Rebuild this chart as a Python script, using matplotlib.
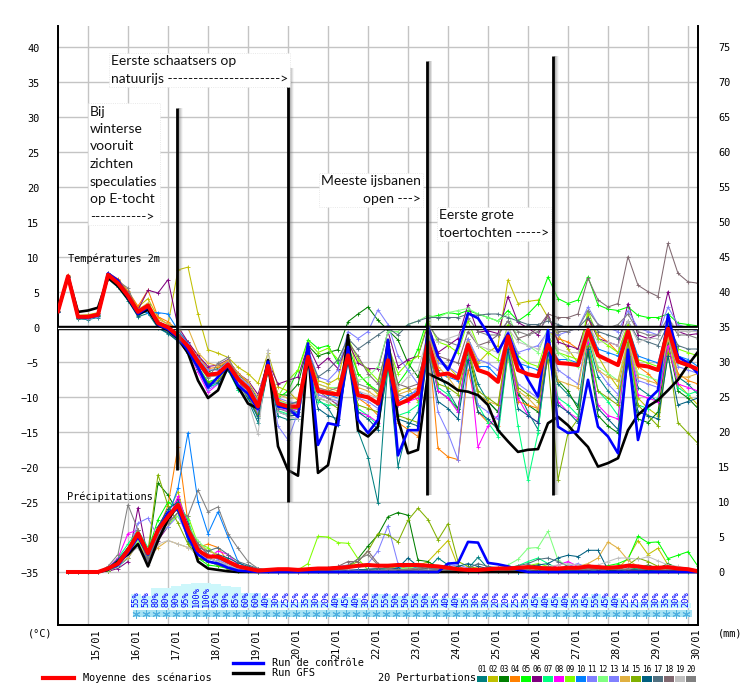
import matplotlib
matplotlib.use("Agg")
import matplotlib.pyplot as plt
from matplotlib.lines import Line2D
from matplotlib.patches import Rectangle
from matplotlib.transforms import blended_transform_factory
import numpy as np

W, H = 744, 684
MONO = "DejaVu Sans Mono"
NOTE = "Lato"

# 6-hourly steps, step 0 = 14/01 06h
steps = np.arange(65)
precip_steps = np.arange(1, 65)
day_steps = np.arange(3, 64, 4)
day_labels = ["15/01", "16/01", "17/01", "18/01", "19/01", "20/01", "21/01", "22/01",
              "23/01", "24/01", "25/01", "26/01", "27/01", "28/01", "29/01", "30/01"]

# probability of precipitation per 6h step (steps 8..63)
pct_steps = np.arange(8, 64)
pct_values = [55, 50, 80, 80, 90, 95, 100, 100, 95, 90, 85, 60, 60, 40, 30, 25, 25, 35, 30, 20,
              40, 45, 40, 30, 55, 55, 50, 50, 55, 50, 35, 40, 40, 35, 30, 30, 20, 20, 25, 35,
              45, 40, 45, 40, 35, 45, 55, 45, 40, 25, 25, 30, 30, 35, 30, 20]

# 2 m temperature (degC)
temp_mean = [2.4, 7.4, 1.6, 1.6, 1.9, 7.6, 6.4, 4.6, 2.3, 3.2, 0.7, 0.1, -1.1,
             -2.6, -4.8, -6.7, -6.5, -5.2, -7.3, -8.6, -11.2, -5.4, -10.8, -11.2, -11.2,
             -4.1, -9.0, -9.3, -9.5, -3.9, -9.6, -9.9, -10.8, -4.6, -10.9, -10.3, -9.3, -2.0, -6.7, -6.5, -7.2, -2.4, -6.0, -6.5, -7.7,
             -1.2, -6.0, -6.6, -6.9, -2.4, -5.0, -5.1, -5.3, -0.3, -3.9, -4.6, -5.3, -0.5, -5.3, -5.5, -6.0, -0.1, -4.8, -5.3, -5.9]
temp_control = [2.4, 7.4, 1.5, 1.5, 1.8, 7.8, 6.8, 4.4, 2.0, 3.0, 0.5, -0.2, -1.4,
                -3.2, -5.6, -8.5, -7.0, -5.4, -8.2, -9.4, -11.6, -4.8, -11.2, -11.5, -12.7,
                -2.2, -16.7, -13.6, -13.9, -2.7, -13.1, -15.0, -13.1, -1.7, -18.2, -14.6, -14.6, 0.2, -4.1, -6.0, -2.7, 2.1, 1.4, -0.8, -3.4,
                -0.8, -4.6, -7.4, -9.8, -0.3, -14.1, -15.0, -14.8, -7.4, -14.1, -15.5, -17.9, -3.1, -16.0, -10.3, -8.9, 1.9, -4.1, -5.0, -6.5]
temp_gfs = [2.4, 7.4, 2.3, 2.5, 2.9, 7.2, 6.0, 4.2, 2.0, 2.6, 0.4, -0.3, -1.5,
            -3.6, -7.5, -10.0, -8.9, -5.5, -8.4, -10.8, -11.5, -4.6, -16.9, -20.3, -21.1,
            -2.9, -20.7, -19.6, -12.4, -1.0, -14.6, -15.5, -14.1, -1.7, -13.0, -17.9, -17.4, -6.5, -7.2, -7.9, -8.9, -9.1, -9.6, -11.0, -14.6,
            -16.2, -17.7, -17.4, -17.3, -13.6, -12.7, -13.9, -15.5, -17.0, -19.8, -19.3, -18.6, -14.6, -12.4, -11.2, -10.3, -8.9, -7.4, -5.3, -3.4]

pert_temp = [
    # 01
    [2.3, 7.5, 1.3, 1.2, 1.5, 7.0, 5.8, 3.9, 1.6, 2.1, 0.0, -0.8, -1.9,
     -3.3, -5.9, -8.5, -7.9, -5.8, -8.8, -10.3, -13.5, -6.0, -12.6, -13.1, -13.0,
     -5.0, -10.2, -11.4, -13.8, -4.2, -14.7, -18.5, -25.0, -5.0, -19.8, -14.0, -12.0, -1.5, -6.0, -9.0, -11.5, -3.0, -8.0, -10.5, -12.0,
     -2.5, -9.0, -12.0, -14.5, -3.5, -8.0, -9.5, -11.0, -1.5, -7.0, -9.0, -10.5, -2.0, -8.5, -9.5, -10.5, -1.0, -7.0, -8.0, -9.5],
    # 02
    [2.5, 7.3, 1.8, 1.9, 2.2, 7.7, 6.9, 5.2, 3.0, 4.2, 1.5, 0.5, 8.3,
     8.7, 2.0, -3.1, -3.6, -4.2, -5.6, -6.5, -7.9, -3.6, -8.4, -9.0, -10.4,
     -3.5, -7.5, -8.0, -7.2, -1.0, -6.5, -8.0, -9.5, -2.0, -9.0, -8.5, -10.5, -1.0, -4.5, -5.5, -7.0, -1.5, -5.0, -3.5, -2.5,
     6.9, 3.5, 3.8, 4.0, 1.5, -1.0, -3.0, -5.0, 2.0, -4.0, -6.5, -8.5, -2.0, -10.0, -11.5, -12.5, -3.0, -8.0, -9.5, -11.0],
    # 03
    [2.4, 7.5, 1.6, 1.5, 1.8, 7.5, 6.4, 4.8, 2.5, 3.4, 0.9, 0.2, -1.0,
     -2.4, -4.4, -6.2, -5.8, -4.8, -6.6, -7.8, -10.2, -5.0, -9.5, -9.6, -8.0,
     -2.5, -4.0, -3.5, -3.1, 0.9, 2.0, 3.0, 1.1, -0.3, -1.7, -5.0, -7.0, -2.5, -9.0, -10.0, -11.5, -3.5, -9.5, -10.5, -12.0,
     -3.0, -9.5, -11.0, -12.0, -2.5, -7.5, -9.0, -11.5, -3.5, -12.5, -14.0, -15.0, -5.0, -13.0, -13.5, -12.0, -2.0, -9.0, -10.0, -11.5],
    # 04
    [2.4, 7.6, 1.7, 1.8, 2.1, 7.9, 7.0, 5.3, 3.1, 5.4, 1.6, 0.9, -0.4,
     -2.0, -4.0, -5.8, -5.6, -4.7, -6.4, -7.9, -10.6, -4.9, -10.2, -10.8, -10.7,
     -3.4, -8.6, -8.9, -9.3, -3.5, -10.0, -11.0, -12.5, -5.5, -13.5, -14.5, -15.5, -1.0, -17.2, -18.4, -18.8, -6.0, -12.0, -13.5, -14.0,
     -4.0, -10.5, -11.0, -11.5, -0.5, -1.5, -2.0, -3.0, 1.5, -1.0, -2.0, -3.5, 0.5, -5.5, -6.5, -8.0, -1.0, -6.5, -7.5, -8.0],
    # 05
    [2.5, 7.4, 1.5, 1.4, 1.7, 7.3, 6.2, 4.4, 2.1, 2.9, 0.5, -0.2, -1.3,
     -3.0, -5.5, -7.7, -7.2, -5.6, -8.0, -9.5, -12.3, -5.6, -10.0, -9.0, -6.0,
     -1.7, -2.9, -2.5, -5.0, -2.5, -6.5, -8.0, -9.0, -3.5, -8.0, -6.0, -3.0, 1.5, 1.8, 2.2, 2.0, 2.5, 2.0, 1.5, 1.0,
     2.5, 1.0, 2.0, 3.5, 7.3, 4.2, 3.5, 4.0, 7.3, 3.3, 2.7, 2.5, 3.0, 1.8, 1.5, 1.5, 2.0, 0.7, 0.5, 0.3],
    # 06
    [2.3, 7.3, 1.4, 1.4, 1.8, 7.6, 6.7, 5.0, 2.6, 5.4, 5.0, 6.9, 0.2,
     -2.0, -3.9, -5.5, -5.3, -4.5, -6.5, -7.5, -9.5, -4.8, -8.0, -7.5, -7.0,
     -2.5, -5.5, -4.3, -5.8, -2.0, -5.0, -5.8, -5.8, -0.5, -5.5, -4.5, -4.0, 0.5, -3.5, -2.5, -1.5, 3.3, -0.6, -0.4, -0.8,
     4.5, 0.8, 0.0, -1.0, 2.0, -2.0, -2.5, -3.0, 1.5, -1.5, -2.0, -2.5, 3.5, -1.0, -1.5, -1.0, 5.2, -0.5, -1.0, -0.8],
    # 07
    [2.4, 7.3, 1.5, 1.5, 1.9, 7.5, 6.3, 4.4, 2.0, 2.9, 0.3, -0.4, -1.6,
     -3.2, -5.6, -8.3, -8.0, -6.0, -8.8, -10.0, -12.6, -6.2, -11.8, -12.3, -12.0,
     -4.5, -10.5, -11.0, -11.0, -4.0, -11.5, -12.5, -14.0, -6.0, -12.5, -12.0, -11.0, -2.5, -8.5, -9.5, -12.0, -4.0, -11.0, -13.5, -15.5,
     -3.5, -14.0, -21.7, -15.0, -2.0, -10.0, -11.0, -12.5, -1.5, -9.0, -10.5, -12.5, -3.0, -11.0, -11.5, -10.0, -0.5, -8.5, -9.5, -9.0],
    # 08
    [2.4, 7.4, 1.6, 1.6, 1.9, 7.4, 6.3, 4.4, 2.1, 3.0, 0.5, -0.3, -1.5,
     -3.4, -6.3, -9.2, -8.0, -5.5, -7.8, -9.6, -12.4, -5.8, -11.5, -11.8, -11.6,
     -4.0, -9.5, -10.0, -11.0, -4.5, -12.0, -12.5, -13.5, -5.0, -11.0, -10.5, -10.0, -2.0, -9.0, -10.0, -12.0, -2.5, -17.0, -14.0, -12.5,
     -2.0, -10.0, -12.5, -13.5, -2.5, -10.5, -12.0, -13.0, -2.0, -11.0, -12.5, -13.0, -1.0, -9.5, -10.0, -10.5, -2.5, -8.0, -8.5, -9.0],
    # 09
    [2.5, 7.4, 1.7, 1.6, 1.9, 7.6, 6.4, 4.5, 2.2, 3.1, 0.6, -0.1, -1.2,
     -2.8, -5.0, -7.0, -6.7, -5.3, -7.4, -8.8, -11.2, -5.4, -9.8, -7.5, -6.0,
     -2.0, -3.5, -2.9, -4.5, -1.5, -4.5, -6.0, -7.5, -2.5, -6.5, -5.0, -4.0, 1.0, -2.0, -2.5, -3.5, 1.0, -2.5, -3.5, -4.5,
     0.5, -4.0, -5.0, -5.5, -1.0, -3.5, -4.0, -4.5, 2.5, -1.5, -2.5, -3.5, 0.5, -4.5, -5.0, -5.5, 1.0, -3.0, -3.5, -4.0],
    # 10
    [2.4, 7.4, 1.6, 1.7, 2.0, 7.8, 6.6, 4.9, 2.3, 2.2, 2.2, 2.0, -0.3,
     -2.2, -4.5, -6.4, -6.4, -5.0, -7.0, -8.4, -10.5, -5.0, -10.5, -11.0, -12.5,
     -4.0, -9.0, -9.5, -10.0, -4.0, -9.0, -10.0, -11.0, -4.0, -10.5, -9.5, -9.0, -1.5, -6.5, -7.0, -7.5, -2.0, -5.5, -5.5, -7.0,
     -1.0, -5.0, -5.5, -6.0, -2.0, -4.5, -4.5, -5.0, 0.5, -3.0, -3.5, -4.0, 0.0, -4.0, -4.5, -5.0, 0.5, -4.0, -4.5, -5.5],
    # 11
    [2.3, 7.2, 1.4, 1.3, 1.6, 7.2, 6.1, 4.3, 1.9, 2.8, 0.2, -0.6, -1.8,
     -3.6, -6.0, -8.8, -8.0, -6.0, -8.5, -9.8, -12.0, -5.5, -14.0, -16.0, -12.0,
     -3.0, -7.0, -7.5, -6.0, -0.5, -1.5, -0.5, 2.6, 0.5, -4.0, -6.0, -8.0, -2.0, -12.0, -15.0, -18.8, -4.5, -11.0, -12.0, -13.0,
     -3.0, -8.0, -9.0, -10.0, -1.5, -6.0, -7.0, -8.0, -0.5, -6.0, -8.0, -9.5, -2.5, -7.5, -8.0, -8.5, -1.5, -5.5, -6.0, -6.5],
    # 12
    [2.4, 7.5, 1.6, 1.6, 1.9, 7.5, 6.4, 4.6, 2.4, 3.2, 0.8, 0.2, -0.9,
     -2.5, -4.6, -6.5, -6.4, -5.0, -7.0, -8.2, -10.8, -5.2, -10.4, -10.8, -10.5,
     -3.5, -8.0, -8.5, -8.5, -3.0, -7.5, -7.0, -5.5, -0.5, -0.5, 0.5, 1.0, 1.8, 1.5, 2.2, 2.5, 2.8, 2.0, 1.5, 1.0,
     2.0, -1.5, -2.5, -3.5, 0.0, -3.5, -4.5, -5.5, -1.0, -5.5, -6.5, -7.5, -1.5, -6.5, -7.0, -7.5, -1.0, -5.0, -5.5, -6.0],
    # 13
    [2.5, 7.5, 1.7, 1.7, 2.0, 7.7, 6.6, 4.7, 2.4, 3.3, 0.9, 0.3, -0.8,
     -2.3, -4.3, -6.0, -6.0, -4.8, -6.9, -8.0, -10.4, -5.0, -10.0, -10.5, -10.8,
     -4.5, -9.5, -10.0, -10.5, -4.5, -10.0, -10.5, -11.5, -5.5, -11.0, -10.0, -8.5, -1.0, -5.0, -5.5, -6.5, -1.5, -4.5, -5.0, -6.0,
     -0.5, -3.5, -3.0, -2.5, -0.5, -1.0, -0.5, 0.0, 3.0, 0.5, 0.0, -0.5, 2.5, 0.0, -0.5, -1.0, 3.0, 0.5, 0.0, -0.5],
    # 14
    [2.4, 7.4, 1.6, 1.6, 1.9, 7.6, 6.5, 4.8, 2.6, 3.6, 1.2, 0.6, -0.4,
     0.0, -3.5, -5.0, -5.4, -4.6, -6.5, -7.6, -10.0, -4.8, -9.5, -10.0, -10.0,
     -3.5, -8.0, -8.5, -9.0, -3.5, -8.5, -9.0, -10.0, -3.5, -9.5, -9.0, -8.5, -0.5, -5.5, -7.0, -9.0, -2.0, -9.5, -10.5, -11.0,
     -1.5, -9.0, -10.0, -11.5, -2.0, -7.5, -8.0, -8.5, -1.0, -6.0, -7.0, -7.5, -2.0, -7.0, -7.5, -8.0, -1.5, -7.0, -7.0, -6.5],
    # 15
    [2.4, 7.4, 1.5, 1.5, 1.8, 7.4, 6.2, 4.3, 1.9, 2.8, 0.3, -0.5, -1.7,
     -3.4, -5.8, -7.8, -7.5, -5.8, -8.3, -9.8, -12.5, -5.8, -11.0, -11.5, -11.5,
     -4.0, -10.0, -10.5, -11.5, -4.5, -11.0, -11.5, -12.0, -5.0, -12.5, -13.0, -13.5, -3.0, -8.0, -8.5, -9.5, -3.0, -9.0, -10.0, -11.0,
     -2.0, -8.5, -9.5, -10.5, -4.5, -21.7, -15.0, -13.0, -2.5, -9.0, -10.0, -11.0, -2.0, -11.0, -12.5, -14.0, -3.5, -13.5, -15.0, -16.5],
    # 16
    [2.3, 7.3, 1.4, 1.4, 1.7, 7.2, 6.0, 4.1, 1.7, 2.6, 0.1, -0.7, -1.9,
     -3.5, -5.8, -8.0, -7.8, -6.0, -8.6, -10.0, -12.8, -6.0, -12.0, -12.5, -12.5,
     -5.0, -11.5, -12.5, -13.0, -5.0, -12.0, -13.0, -14.5, -5.5, -13.0, -13.5, -14.0, -3.5, -10.5, -11.5, -13.0, -4.5, -12.0, -13.0, -14.5,
     -3.0, -11.5, -12.5, -13.5, -3.5, -11.0, -12.0, -13.5, -3.0, -11.5, -13.0, -14.5, -4.0, -12.0, -12.5, -13.0, -4.0, -11.0, -10.5, -10.0],
    # 17
    [2.4, 7.4, 1.6, 1.6, 1.9, 7.5, 6.3, 4.6, 2.3, 3.1, 0.6, 0.0, -1.2,
     -2.8, -5.1, -7.0, -6.8, -5.4, -7.6, -8.8, -11.5, -5.6, -10.8, -11.0, -10.5,
     -3.5, -7.0, -6.0, -4.5, -1.5, -3.0, -2.0, -1.0, 0.0, -1.0, 0.5, 1.0, 1.5, 1.5, 1.5, 1.5, 2.0, 1.8, 2.0, 2.0,
     1.5, 1.0, 0.5, 0.5, 1.0, 0.5, 0.0, 0.0, 1.5, -0.5, -1.0, -1.5, 1.0, -1.5, -2.0, -2.5, 0.5, -2.5, -3.0, -3.0],
    # 18
    [2.4, 7.5, 1.7, 1.7, 2.1, 7.8, 6.8, 5.0, 2.6, 3.3, 0.9, 0.3, -0.8,
     -2.5, -4.6, -6.6, -6.8, -5.5, -7.8, -9.0, -11.5, -5.5, -11.0, -11.5, -12.0,
     -4.0, -9.0, -10.0, -11.0, -2.0, -4.0, -6.5, -8.0, -2.0, -8.0, -8.5, -8.0, -0.5, -4.0, -4.5, -5.0, -0.5, -2.5, -2.0, -1.0,
     1.0, -1.5, -1.0, 0.0, 2.0, 1.5, 1.5, 2.0, 7.1, 4.0, 3.0, 3.5, 10.2, 6.1, 5.2, 4.5, 12.1, 7.8, 6.6, 6.4],
    # 19
    [2.4, 7.4, 1.6, 1.6, 1.9, 7.5, 6.4, 4.6, 2.3, 3.2, 0.7, 0.1, -1.1,
     -2.7, -4.9, -7.0, -6.8, -5.4, -7.8, -10.5, -15.2, -3.1, -12.0, -12.5, -13.0,
     -4.5, -10.0, -10.5, -10.0, -3.5, -9.0, -9.5, -10.0, -3.5, -8.5, -7.0, -6.0, -1.0, -2.0, -1.5, -1.0, 0.0, -2.5, -3.0, -3.5,
     0.0, -2.0, -2.5, -3.0, -0.5, -3.0, -3.5, -3.5, 0.5, -2.0, -2.0, -2.5, 1.0, -2.0, -1.5, -1.5, 1.5, -0.5, -0.5, -0.5],
    # 20
    [2.4, 7.4, 1.5, 1.5, 1.8, 7.3, 6.7, 5.7, 2.2, 3.0, 0.4, -0.3, -1.4,
     -3.0, -5.2, -7.2, -5.0, -4.2, -7.0, -8.5, -11.0, -4.5, -11.5, -12.0, -12.5,
     -4.0, -8.5, -9.0, -8.5, -2.5, -8.0, -8.5, -9.0, -3.0, -9.5, -10.0, -9.5, 0.5, -1.5, -2.0, -2.5, 1.5, -0.5, -1.0, -1.0,
     1.0, -0.5, -1.0, -0.5, 1.5, -0.5, -0.5, 0.0, 2.5, 0.5, 0.0, 0.5, 2.0, -0.5, -1.0, -1.0, 1.5, -1.0, -1.0, -1.5],
]

# 6-hourly precipitation (mm), steps 1..64
precip_mean = [0, 0, 0, 0, 0.5, 1.2, 3.1, 5.5, 2.7, 6.0, 7.9, 9.6, 6.0, 3.1, 2.2, 2.2, 1.5, 0.8, 0.5, 0.2,
               0.3, 0.4, 0.4, 0.3, 0.4, 0.5, 0.5, 0.6, 0.7, 0.9, 1.0, 0.9, 0.9, 1.0, 1.0, 1.0, 0.9, 0.8, 0.6, 0.4,
               0.3, 0.3, 0.4, 0.5, 0.5, 0.6, 0.7, 0.6, 0.5, 0.5, 0.6, 0.6, 0.8, 0.7, 0.6, 0.7, 0.9, 0.8, 0.6, 0.6,
               0.7, 0.5, 0.4, 0.1]
precip_control = [0, 0, 0, 0, 0.4, 1.0, 2.8, 5.0, 2.5, 6.0, 8.5, 9.0, 5.0, 2.5, 1.5, 1.2, 0.6, 0.2, 0.1, 0.0,
                  0, 0, 0, 0, 0, 0, 0, 0, 0, 0, 0, 0, 0, 0, 0, 0, 0, 0, 1.2, 1.3,
                  4.3, 4.2, 1.3, 1.1, 0.8, 0.3, 0, 0, 0, 0, 0, 0, 0, 0, 0, 0, 0, 0, 0, 0,
                  0, 0, 0, 0]
precip_gfs = [0, 0, 0, 0, 0.3, 1.5, 2.5, 4.0, 0.8, 4.5, 7.5, 9.5, 6.0, 1.5, 0.5, 0.3, 0.1, 0, 0, 0,
              0, 0, 0, 0, 0, 0, 0, 0, 0, 0, 0, 0, 0, 0, 0, 0, 0, 0, 0, 0,
              0, 0, 0, 0, 0, 0, 0, 0, 0, 0, 0, 0, 0, 0, 0, 0, 0, 0, 0, 0,
              0, 0, 0, 0]

pert_precip = [
    [0, 0, 0, 0, 0.5, 1.5, 3.5, 5.0, 2.0, 6.5, 8.0, 9.0, 4.5, 2.0, 1.5, 1.0, 0.6, 0.3, 0.2, 0.1,
     0.2, 0.1, 0, 0, 0.1, 0.2, 0.3, 0.2, 0.1, 0.3, 0.4, 0.3, 0.2, 0.1, 0.2, 0.3, 0.5, 2.0, 1.0, 0.3,
     0.5, 2.1, 0.5, 0.2, 0.1, 0, 0.1, 0.3, 0.4, 0.2, 0.1, 0, 0, 0.2, 0.3, 0.2, 0.1, 0, 0.1, 0.2, 0.1, 0, 0, 0],
    [0, 0, 0, 0, 0.3, 1.0, 2.5, 4.5, 3.0, 5.5, 8.5, 11.5, 6.0, 2.5, 1.5, 1.2, 0.8, 0.5, 0.3, 0.1,
     0.3, 0.2, 0.1, 0, 0, 0.1, 0.2, 0.4, 0.3, 0.2, 0.1, 0.2, 0.5, 0.8, 0.6, 0.9, 1.5, 3.0, 4.5, 0.8,
     0.3, 0.2, 0.1, 0.3, 0.4, 0.5, 0.2, 0.1, 0, 0.2, 0.4, 0.3, 0.2, 0.1, 0.3, 0.5, 2.0, 4.5, 2.5, 3.4, 1.0, 0.4, 0.2, 0],
    [0, 0, 0, 0, 0.2, 0.8, 3.0, 5.5, 2.5, 12.7, 11.0, 8.5, 5.0, 3.0, 2.0, 1.5, 1.0, 0.4, 0.2, 0.1,
     0.2, 0.1, 0.1, 0.2, 0.4, 0.3, 0.2, 0.5, 0.8, 1.9, 3.7, 5.3, 7.9, 8.5, 8.1, 1.7, 1.5, 0.6, 0.3, 0.2,
     0.1, 0.2, 0.4, 0.3, 0.1, 0, 0.2, 0.4, 0.6, 0.3, 0.2, 0.1, 0.3, 0.5, 0.8, 0.4, 0.3, 0.6, 1.0, 0.5, 1.2, 0.6, 0.2, 0.1],
    [0, 0, 0, 0, 0.4, 1.0, 2.5, 4.0, 1.5, 6.0, 9.5, 17.9, 7.0, 3.5, 4.0, 3.5, 1.5, 0.6, 0.3, 0.1,
     0.1, 0, 0, 0.1, 0.2, 0.1, 0, 0.1, 0.3, 0.2, 0.1, 0.3, 0.6, 0.4, 0.8, 1.2, 1.0, 0.5, 0.3, 0.2,
     0.4, 0.6, 0.3, 0.2, 0.1, 0.3, 0.5, 0.4, 0.2, 0.1, 0.2, 0.3, 0.6, 0.8, 0.5, 0.3, 0.2, 0.4, 0.3, 0.2, 0.1, 0.2, 0.1, 0],
    [0, 0, 0, 0, 0.3, 1.2, 3.0, 5.5, 3.0, 7.5, 10.0, 9.0, 5.5, 2.0, 1.0, 0.8, 0.5, 0.2, 0.1, 0.0,
     0.3, 0.2, 0.1, 0.1, 0.2, 0.4, 0.5, 0.3, 0.2, 0.1, 0.2, 0.3, 0.2, 0.1, 0.3, 0.4, 0.6, 0.5, 0.3, 0.2,
     0.1, 0.2, 0.3, 0.2, 0.1, 0.2, 0.4, 0.6, 0.3, 0.2, 0.3, 0.5, 0.4, 0.6, 0.9, 1.2, 1.8, 5.1, 4.2, 4.3, 1.9, 2.4, 2.9, 0.8],
    [0, 0, 0, 0, 0.1, 0.5, 1.5, 9.2, 2.0, 4.5, 6.5, 10.5, 7.0, 3.5, 2.0, 1.5, 1.0, 0.5, 0.2, 0.0,
     0.1, 0, 0, 0, 0.1, 0.2, 0.1, 0, 0.2, 0.3, 0.2, 0.1, 0.3, 0.5, 0.4, 0.2, 0.1, 0.3, 0.2, 0.1,
     0, 0.1, 0.2, 0.1, 0, 0.1, 0.3, 0.2, 0.1, 0, 0.1, 0.2, 0.1, 0, 0.1, 0.3, 0.2, 0.1, 0, 0.1, 0.2, 0.1, 0, 0],
    [0, 0, 0, 0, 0.5, 2.0, 4.0, 6.0, 3.5, 6.0, 8.0, 10.0, 7.5, 3.0, 2.0, 1.5, 0.8, 0.4, 0.2, 0.1,
     0.2, 0.3, 0.2, 0.1, 0.1, 0.2, 0.3, 0.4, 0.2, 0.1, 0.3, 0.4, 0.6, 0.5, 0.3, 0.2, 0.4, 0.5, 0.3, 0.2,
     0.3, 0.5, 0.4, 0.3, 0.6, 0.9, 1.5, 2.0, 1.2, 0.5, 0.3, 0.2, 0.4, 0.3, 0.2, 0.1, 0.3, 0.5, 0.4, 0.2, 0.3, 0.2, 0.1, 0],
    [0, 0, 0, 0, 0.6, 2.0, 5.5, 6.0, 3.0, 5.5, 7.5, 10.8, 6.5, 2.5, 2.0, 3.0, 2.5, 1.0, 0.3, 0.1,
     0.1, 0.2, 0.1, 0, 0.1, 0.2, 0.1, 0.2, 0.3, 0.2, 0.1, 0.2, 0.3, 0.4, 0.2, 0.1, 0.3, 0.2, 0.1, 0.2,
     0.1, 0, 0.1, 0.2, 0.3, 0.2, 0.4, 0.5, 0.3, 1.0, 1.5, 0.8, 0.4, 0.2, 0.1, 0.2, 0.3, 0.2, 0.1, 0, 0.1, 0.2, 0.1, 0],
    [0, 0, 0, 0, 0.2, 0.8, 2.0, 4.5, 2.0, 5.0, 6.5, 8.5, 8.0, 4.0, 3.5, 2.0, 1.5, 0.6, 0.3, 0.1,
     0.2, 0.1, 0.1, 0.3, 1.2, 5.1, 5.0, 4.2, 4.1, 1.9, 0.3, 0.2, 0.4, 0.3, 0.5, 0.6, 0.4, 0.3, 0.2, 0.3,
     0.5, 0.4, 0.3, 0.2, 0.4, 0.6, 0.9, 1.2, 0.8, 0.4, 0.3, 0.2, 0.3, 0.5, 0.4, 0.3, 0.2, 0.3, 0.4, 0.3, 0.2, 0.3, 0.1, 0],
    [0, 0, 0, 0, 0.3, 0.8, 2.0, 4.0, 1.5, 5.5, 8.0, 12.0, 19.9, 10.0, 5.5, 8.6, 5.0, 1.5, 0.4, 0.1,
     0.1, 0, 0, 0.1, 0.2, 0.1, 0, 0.1, 0.2, 0.3, 0.2, 0.1, 0.3, 0.6, 1.0, 0.5, 0.3, 0.2, 0.1, 0.2,
     0.1, 0.2, 0.3, 0.2, 0.1, 0, 0.1, 0.2, 0.3, 0.2, 0.1, 0.2, 0.3, 0.2, 0.1, 0.2, 0.3, 0.4, 0.2, 0.1, 0.1, 0, 0, 0],
    [0, 0, 0, 0, 0.4, 1.0, 2.5, 7.0, 7.7, 5.0, 6.5, 8.0, 5.0, 3.0, 2.0, 1.5, 0.8, 0.3, 0.1, 0.0,
     0.2, 0.3, 0.2, 0.1, 0.3, 0.4, 0.6, 0.8, 1.0, 0.7, 1.2, 3.0, 6.6, 1.2, 0.5, 0.3, 0.2, 0.4, 0.3, 0.2,
     0.1, 0.2, 0.3, 0.2, 0.1, 0.3, 0.4, 0.2, 0.1, 0.2, 0.3, 0.2, 0.1, 0.2, 0.3, 0.4, 0.3, 0.2, 0.1, 0.2, 0.1, 0.2, 0.1, 0],
    [0, 0, 0, 0, 0.3, 1.0, 2.5, 4.5, 2.0, 6.0, 7.0, 8.0, 6.5, 4.5, 3.0, 2.5, 1.2, 0.5, 0.2, 0.1,
     0.1, 0.2, 0.1, 0.2, 0.3, 0.2, 0.4, 0.3, 0.2, 0.1, 0.2, 0.3, 0.2, 0.4, 0.6, 0.5, 0.3, 0.2, 0.1, 0.2,
     0.3, 0.2, 0.4, 0.6, 1.0, 1.8, 3.4, 3.5, 5.8, 1.7, 0.8, 0.5, 0.3, 0.2, 0.4, 0.3, 0.2, 0.3, 0.2, 0.1, 0.2, 0.1, 0, 0],
    [0, 0, 0, 0, 0.4, 1.2, 3.0, 5.5, 3.0, 5.0, 7.5, 9.5, 6.0, 4.0, 2.5, 1.8, 1.0, 0.4, 0.2, 0.1,
     0.1, 0, 0.1, 0.2, 0.1, 0.2, 0.3, 0.2, 0.1, 0.2, 0.3, 0.2, 0.4, 0.3, 0.2, 0.3, 0.5, 0.6, 0.8, 1.0,
     0.6, 0.4, 0.3, 0.2, 0.3, 0.4, 0.3, 0.2, 0.3, 0.5, 0.8, 1.2, 0.6, 0.3, 0.2, 0.4, 0.3, 0.2, 0.1, 0.2, 0.1, 0.2, 0.1, 0],
    [0, 0, 0, 0, 0.3, 1.0, 2.0, 4.0, 2.0, 3.5, 4.5, 4.0, 3.5, 4.0, 3.0, 2.5, 1.5, 0.5, 0.2, 0.1,
     0.2, 0.1, 0, 0.1, 0.2, 0.1, 0.2, 0.3, 0.2, 0.1, 0.2, 0.1, 0.3, 0.2, 0.4, 0.3, 0.2, 0.1, 0.2, 0.3,
     0.2, 0.1, 0.2, 0.3, 0.2, 0.4, 0.3, 0.2, 0.3, 0.4, 0.6, 0.8, 1.2, 2.0, 4.3, 3.4, 1.7, 0.8, 0.5, 0.3, 0.2, 0.1, 0.1, 0],
    [0, 0, 0, 0, 0.4, 1.5, 3.5, 6.0, 3.0, 13.9, 9.5, 7.0, 4.0, 2.0, 1.5, 1.0, 0.5, 0.2, 0.1, 0.0,
     0.2, 0.3, 0.1, 0.2, 0.3, 0.4, 0.3, 0.5, 0.8, 1.5, 3.0, 5.5, 5.3, 4.3, 7.4, 9.1, 7.5, 4.6, 6.9, 1.5,
     0.8, 0.5, 0.3, 0.2, 0.4, 0.3, 0.2, 0.3, 0.4, 0.2, 0.3, 0.2, 0.4, 0.5, 0.3, 0.2, 1.0, 2.0, 1.5, 0.8, 0.5, 0.3, 0.2, 0.1],
    [0, 0, 0, 0, 0.6, 1.8, 3.5, 5.0, 2.5, 6.5, 9.0, 10.0, 6.0, 3.0, 2.0, 2.5, 2.0, 1.3, 0.8, 0.4,
     0.3, 0.2, 0.1, 0.2, 0.3, 0.5, 0.4, 0.3, 0.2, 0.3, 0.4, 0.5, 0.3, 0.6, 2.0, 0.8, 0.4, 0.3, 0.5, 0.8,
     1.2, 0.8, 0.5, 0.3, 0.4, 0.6, 0.8, 1.0, 1.2, 2.0, 2.4, 2.2, 3.1, 3.1, 0.3, 0.2, 0.4, 0.3, 0.2, 0.1, 0.2, 0.1, 0.1, 0],
    [0, 0, 0, 0, 0.5, 1.5, 3.0, 5.0, 2.0, 6.0, 7.5, 9.5, 5.5, 3.5, 3.0, 3.5, 2.5, 1.5, 1.0, 0.5,
     0.2, 0.1, 0.2, 0.1, 0.2, 0.3, 0.2, 0.4, 0.3, 0.2, 0.3, 0.5, 0.4, 0.3, 0.2, 0.4, 0.3, 0.5, 0.6, 0.4,
     0.5, 1.2, 0.8, 0.6, 0.5, 0.9, 1.2, 1.8, 2.0, 1.5, 0.8, 0.6, 0.4, 0.3, 0.5, 0.4, 0.3, 0.2, 0.4, 0.3, 0.2, 0.1, 0.1, 0],
    [0, 0, 0, 0, 0.5, 1.5, 3.5, 5.5, 1.5, 5.0, 7.0, 8.5, 6.5, 4.0, 2.5, 2.0, 1.2, 0.5, 0.2, 0.1,
     0.3, 0.2, 0.1, 0.2, 0.3, 0.4, 0.6, 0.8, 1.5, 1.5, 3.0, 1.2, 0.5, 0.3, 0.2, 0.4, 0.6, 0.3, 0.2, 0.1,
     0.2, 0.3, 0.2, 0.1, 0.2, 0.3, 0.5, 0.4, 0.3, 0.2, 0.1, 0.2, 0.3, 0.4, 0.6, 0.5, 0.3, 0.2, 0.4, 0.3, 0.2, 0.3, 0.2, 0.1],
    [0, 0, 0, 0, 0.3, 1.0, 2.5, 3.5, 1.0, 4.0, 4.5, 4.0, 3.5, 2.5, 2.0, 1.5, 1.0, 0.5, 0.3, 0.1,
     0.1, 0.2, 0.1, 0, 0.1, 0.2, 0.1, 0.2, 0.3, 0.2, 0.1, 0.2, 0.3, 0.2, 0.1, 0.2, 0.3, 0.2, 0.1, 0.2,
     0.1, 0.2, 0.3, 0.2, 0.4, 0.3, 0.2, 0.5, 0.8, 1.0, 1.2, 1.0, 0.8, 1.0, 1.5, 2.0, 2.0, 1.8, 2.2, 1.6, 1.0, 0.8, 0.5, 0.3],
    [0, 0, 0, 0, 0.8, 2.5, 9.6, 6.0, 2.5, 5.5, 7.0, 8.5, 8.0, 11.7, 8.6, 9.3, 5.5, 3.4, 1.5, 0.5,
     0.3, 0.2, 0.1, 0.2, 0.3, 0.2, 0.4, 0.6, 1.0, 1.8, 2.5, 1.0, 0.5, 0.3, 0.4, 0.6, 0.8, 0.5, 0.3, 0.2,
     0.1, 0.2, 0.3, 0.2, 0.1, 0.3, 0.4, 0.6, 0.8, 0.5, 0.4, 0.3, 0.5, 0.6, 0.4, 0.3, 0.5, 0.7, 0.9, 0.6, 0.4, 0.3, 0.2, 0.1],
]

pert_colors = ["#008080", "#c0c000", "#008000", "#ff8000", "#00ff00", "#800080", "#00ff80",
               "#ff00ff", "#80ff00", "#0080ff", "#8080ff", "#80ff80", "#8080ff", "#e0b040",
               "#80b000", "#006080", "#507080", "#806870", "#c0c0c0", "#808080"]

# annotations: (text, x px, y px of block centre, alignment)
notes = [
    ("Eerste schaatsers op\nnatuurijs ---------------------->", 111, 70, "left"),
    ("Bij\nwinterse\nvooruit\nzichten\nspeculaties\nop E-tocht\n----------->", 90, 164, "left"),
    ("Meeste ijsbanen\nopen --->", 421, 190, "right"),
    ("Eerste grote\ntoertochten ----->", 439, 224, "left"),
]
# marker lines: x px, top y px, bottom y px
note_lines = [(177, 108, 470), (288, 68, 502), (427, 61, 495), (553, 56, 495)]


def fx(x):
    return x / W


def fy(y):
    return 1 - y / H


def main():
    fig = plt.figure(figsize=(W / 100, H / 100), dpi=100, facecolor="white")
    ax = fig.add_axes([fx(58), fy(625), 640 / W, 599 / H])
    ax2 = ax.twinx()
    ax.set_zorder(ax2.get_zorder() + 1)
    ax.patch.set_visible(False)

    # temperature axis: 7 px per degree, 0 at y=328
    ax.set_xlim(0, 64)
    ax.set_ylim((328 - 625) / 7, (328 - 26) / 7)
    ax2.set_ylim((572 - 625) / 7, (572 - 26) / 7)

    ax.set_yticks(np.arange(-35, 41, 5))
    ax2.set_yticks(np.arange(0, 76, 5))
    ax.set_xticks(day_steps)
    ax.set_xticklabels([])
    ax.tick_params(axis="both", length=0)
    ax.tick_params(axis="y", pad=13.5, labelsize=7.4, labelfontfamily=MONO)
    ax2.tick_params(axis="y", length=0, pad=14.5, labelsize=7.4, labelfontfamily=MONO)

    for a in (ax, ax2):
        a.spines["top"].set_visible(False)
        for s in ("left", "right", "bottom"):
            a.spines[s].set_color("black")
            a.spines[s].set_linewidth(1.3)

    # grid on the lower (precipitation) axes
    ax2.grid(axis="y", color="#c4c4c4", lw=1.0)
    for d in day_steps:
        ax2.axvline(d, color="#c4c4c4", lw=1.0, zorder=0.5)
    ax2.set_axisbelow(True)

    trans = blended_transform_factory(ax.transData, ax.transAxes)
    for d, lab in zip(day_steps, day_labels):
        ax.text(d + 0.8, -0.006, lab, transform=trans, rotation=90, ha="center", va="top",
                fontsize=7.4, family=MONO)

    # probability row
    base = (572 - 608) / 7
    ax2.bar(pct_steps - 0.2, np.array(pct_values) * 0.25 / 7, width=1.0, bottom=base,
            color="#cdf7fb", edgecolor="none", zorder=1)
    ax2.fill_between([7.5, 63.4], (572 - 610) / 7, (572 - 617) / 7, color="#a6e2f4",
                     edgecolor="none", zorder=1)
    ax2.scatter(pct_steps - 0.2, np.full(len(pct_steps), (572 - 613.5) / 7), marker=(6, 2, 0),
                s=28, color="#4fb0e0", linewidths=0.7, zorder=1.2)
    for s, p in zip(pct_steps, pct_values):
        ax2.text(s - 0.2, (572 - 607) / 7, f"{p}%", rotation=90, ha="center", va="bottom",
                 fontsize=6.2, family=MONO, color="#0000ff", zorder=1.5)

    # precipitation
    for vals, c in zip(pert_precip, pert_colors):
        ax2.plot(precip_steps, vals, color=c, lw=0.75, marker="+", ms=3, mew=0.6, zorder=2)
    ax2.plot(precip_steps, precip_gfs, color="black", lw=1.9, zorder=3)
    ax2.plot(precip_steps, precip_control, color="#0000ff", lw=1.9, zorder=3.2)
    ax2.plot(precip_steps, precip_mean, color="#ff0000", lw=2.9, zorder=4)

    # temperature
    for vals, c in zip(pert_temp, pert_colors):
        ax.plot(steps, vals, color=c, lw=0.75, marker="+", ms=3, mew=0.6, zorder=2)
    ax.axhline(0, color="black", lw=3.2, zorder=2.5)
    ax.axhline(0, color="white", lw=0.9, zorder=2.6)
    ax.plot(steps, temp_gfs, color="black", lw=1.9, zorder=3)
    ax.plot(steps, temp_control, color="#0000ff", lw=1.9, zorder=3.2)
    ax.plot(steps, temp_mean, color="#ff0000", lw=2.9, zorder=4)

    # marker lines with a soft shadow
    for xp, ytop, ybot in note_lines:
        xs = (xp - 58) / 10
        y0, y1 = (328 - ybot) / 7, (328 - ytop) / 7
        for k, al in enumerate([0.45, 0.3, 0.18, 0.08]):
            ax.plot([xs + 0.15 + 0.1 * k] * 2, [y0, y1], color="#707070", alpha=al, lw=1.1,
                    zorder=5, solid_capstyle="butt")
        ax.plot([xs, xs], [y0, y1], color="black", lw=2.0, zorder=5.5, solid_capstyle="butt")

    for txt, xp, yp, al in notes:
        fig.text(fx(xp), fy(yp), txt, ha=al, va="center", multialignment=al, fontsize=10,
                 family=NOTE, linespacing=1.55, color="#111111",
                 bbox=dict(facecolor="white", edgecolor="#e2e2e2", linestyle=":", lw=0.6, pad=1.5))

    fig.text(fx(68), fy(259), "Températures 2m", ha="left", va="center", fontsize=7.4, family=MONO)
    fig.text(fx(67), fy(497), "Précipitations", ha="left", va="center", fontsize=7.4, family=MONO)
    fig.text(fx(28), fy(633), "(°C)", ha="left", va="center", fontsize=7.4, family=MONO)
    fig.text(fx(718), fy(633), "(mm)", ha="left", va="center", fontsize=7.4, family=MONO)

    # legend
    fig.add_artist(Line2D([fx(43), fx(74)], [fy(678), fy(678)], color="#ff0000", lw=3.0))
    fig.text(fx(83), fy(678), "Moyenne des scénarios", ha="left", va="center", fontsize=7.4, family=MONO)
    fig.add_artist(Line2D([fx(233), fx(263)], [fy(663), fy(663)], color="#0000ff", lw=2.4))
    fig.text(fx(272), fy(663), "Run de contrôle", ha="left", va="center", fontsize=7.4, family=MONO)
    fig.add_artist(Line2D([fx(233), fx(263)], [fy(673), fy(673)], color="black", lw=2.4))
    fig.text(fx(272), fy(673), "Run GFS", ha="left", va="center", fontsize=7.4, family=MONO)
    fig.text(fx(378), fy(678), "20 Perturbations", ha="left", va="center", fontsize=7.4, family=MONO)
    for k, c in enumerate(pert_colors):
        x0 = 477 + 11 * k
        fig.add_artist(Rectangle((fx(x0), fy(682)), 10 / W, 6 / H, transform=fig.transFigure,
                                 facecolor=c, edgecolor="none"))
        fig.text(fx(x0 + 5), fy(670), f"{k + 1:02d}", ha="center", va="center", fontsize=5.6,
                 family=MONO)

    fig.savefig("out.png", dpi=100, facecolor="white")
    plt.close(fig)


if __name__ == "__main__":
    main()
